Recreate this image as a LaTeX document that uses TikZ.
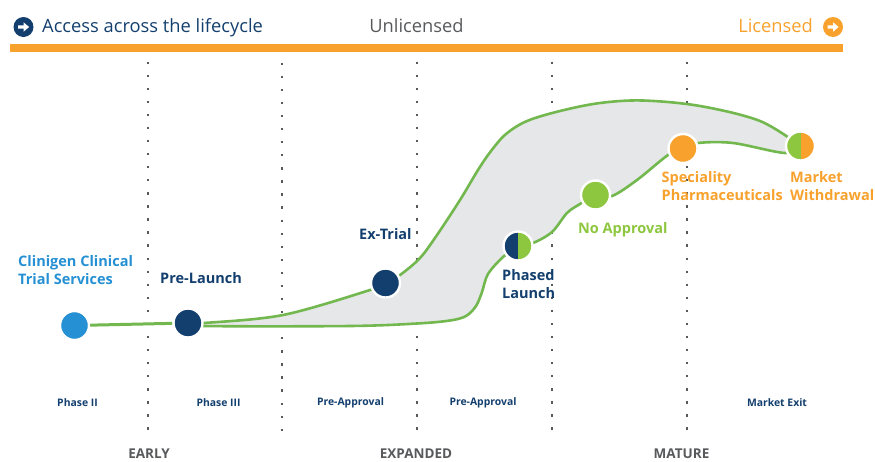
\documentclass[tikz,border=0pt]{standalone}
\usepackage{fontspec}
\setmainfont{Open Sans}
\definecolor{navy}{HTML}{133F6E}
\definecolor{ora}{HTML}{F8A12C}
\definecolor{lgreen}{HTML}{8DC63F}
\definecolor{line}{HTML}{72B84F}
\definecolor{blu}{HTML}{2590D3}
\definecolor{area}{HTML}{E6E7E8}
\definecolor{gtxt}{HTML}{58595B}
\pgfdeclarelayer{back}
\pgfsetlayers{back,main}
\newcommand{\upperpts}{(prelaunch) (204,323) (283,315) (370,290) (extrial) (400,275) (420,258) (437,235) (460,200) (478,170) (491,151) (506,134) (527,121) (560,111) (600,103) (643,100.5) (700,106) (760,121) (market)}
\newcommand{\lowerpts}{(prelaunch) (204,326) (350,326) (417,323.5) (450,320.5) (466,316) (476,306) (482,292) (488,274) (503,257) (phased) (533,243) (552,232) (567,213) (580,204) (noappr) (612,196) (637,180) (668,155) (special) (698,143) (733,143) (785,153) (market)}
\newcommand{\lowerrev}{(market) (785,153) (733,143) (698,143) (special) (668,155) (637,180) (612,196) (noappr) (580,204) (567,213) (552,232) (533,243) (phased) (503,257) (488,274) (482,292) (476,306) (466,316) (450,320.5) (417,323.5) (350,326) (204,326) (prelaunch)}
\tikzset{
 x=1pt,y=-1pt,
 stage/.style={circle,draw=white,line width=2.4pt,minimum size=29pt,inner sep=0pt},
 halfA/.style 2 args={stage,path picture={
   \fill[#1] (path picture bounding box.south west) rectangle (path picture bounding box.north);
   \fill[#2] (path picture bounding box.south) rectangle (path picture bounding box.north east);}},
 lab/.style={font=\fontsize{14.5}{18.2}\selectfont\bfseries,align=left,anchor=north west,inner sep=0pt},
 phase/.style={font=\fontsize{10.4}{12}\selectfont\bfseries,text=navy,inner sep=0pt},
 band/.style={font=\fontsize{13.5}{14}\selectfont\bfseries,text=gtxt,inner sep=0pt},
 head/.style={font=\fontsize{18.3}{21}\selectfont,inner sep=0pt},
 curve/.style={draw=line,line width=2.6pt},
 vdots/.style={draw=gtxt,line width=2.3pt,dash pattern=on 2.3pt off 10.77pt},
 disc/.style={circle,minimum size=20pt,inner sep=0pt},
}
\newcommand{\arrowin}[1]{\fill[white,shift={(#1)}] (-5.5,-1.6) -- (0.2,-1.6) -- (0.2,-4.6) -- (5.6,0) -- (0.2,4.6) -- (0.2,1.6) -- (-5.5,1.6) -- cycle;}
\begin{document}
\begin{tikzpicture}
\useasboundingbox (0,0) rectangle (875,461);
% bar
\node[fill=ora,minimum width=833pt,minimum height=8pt,inner sep=0pt,anchor=north west] (bar) at (10,44) {};
% heading
\node[disc,fill=navy] (d1) at (23.5,27) {};
\arrowin{d1}
\node[head,text=navy,anchor=base west] (h1) at (42,32.5) {Access across the lifecycle};
\node[head,text=gtxt,anchor=base] (h2) at (416.5,32.5) {Unlicensed};
\node[head,text=ora,anchor=base east] (h3) at (813,32.5) {Licensed};
\node[disc,fill=ora] (d2) at (833,27) {};
\arrowin{d2}
% stages
\node[stage,fill=blu] (clinigen) at (74.5,325.5) {};
\node[stage,fill=navy] (prelaunch) at (188,323) {};
\node[stage,fill=navy] (extrial) at (385.5,283) {};
\node[stage,halfA={navy}{lgreen}] (phased) at (518,246) {};
\node[stage,fill=lgreen] (noappr) at (595.5,195) {};
\node[stage,fill=ora] (special) at (683,148.5) {};
\node[stage,halfA={lgreen}{ora}] (market) at (800.5,146) {};
% back layer
\begin{pgfonlayer}{back}
 \foreach \n/\x/\y in {a/148.3/61.5,b/282/62.7,c/417/61.5,d/551.7/61.5,e/687/61.5}{
  \coordinate (\n t) at (\x,\y);
  \coordinate (\n b) at (\x,\y+368);
  \draw[vdots] (\n t) -- (\n b);
 }
 \fill[area] plot[smooth,tension=0.55] coordinates {\upperpts} -- plot[smooth,tension=0.55] coordinates {\lowerrev} -- cycle;
 \draw[curve,line width=3pt] (clinigen) -- (prelaunch);
 \draw[curve] plot[smooth,tension=0.55] coordinates {\upperpts};
 \draw[curve] plot[smooth,tension=0.55] coordinates {\lowerpts};
\end{pgfonlayer}
% labels
\node[lab,text=blu] (l1) at (18,255.5) {Clinigen Clinical\\Trial Services};
\node[lab,text=navy] (l2) at (160,272.5) {Pre-Launch};
\node[lab,text=navy] (l3) at (359,228) {Ex-Trial};
\node[lab,text=navy] (l4) at (502,269) {Phased\\Launch};
\node[lab,text=lgreen] (l5) at (578,222.5) {No Approval};
\node[lab,text=ora] (l6) at (661.5,171) {Speciality\\Pharmaceuticals};
\node[lab,text=ora] (l7) at (790,171) {Market\\Withdrawal};
% phases
\node[phase] (p1) at (77.5,403) {Phase II};
\node[phase] (p2) at (218.5,403) {Phase III};
\node[phase] (p3) at (350.5,403) {Pre-Approval};
\node[phase] (p4) at (483,403) {Pre-Approval};
\node[phase] (p5) at (777,403) {Market Exit};
% bands
\node[band] (b1) at (149,454) {EARLY};
\node[band] (b2) at (416,454) {EXPANDED};
\node[band] (b3) at (681.5,454) {MATURE};
\end{tikzpicture}
\end{document}
